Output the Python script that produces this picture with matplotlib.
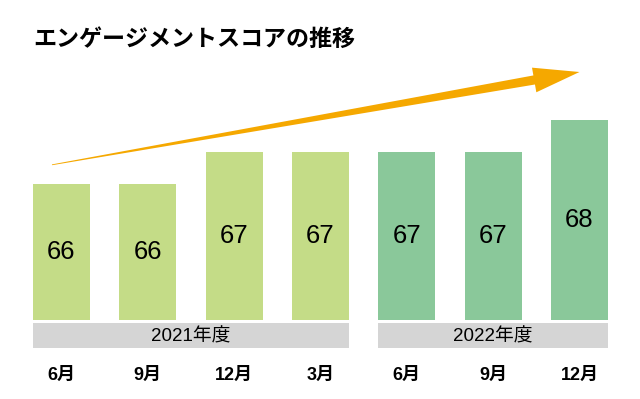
import numpy as np
import matplotlib.pyplot as plt
from matplotlib.patches import Rectangle, Polygon

# data
months = ['6月', '9月', '12月', '3月', '6月', '9月', '12月']
scores = [66, 66, 67, 67, 67, 67, 68]
fiscal = ['2021年度', '2021年度', '2021年度', '2021年度', '2022年度', '2022年度', '2022年度']
years = ['2021年度', '2022年度']
title = 'エンゲージメントスコアの推移'

col_year = {'2021年度': '#c4dc87', '2022年度': '#8ac89a'}
band_col = '#d5d5d5'
arrow_col = '#f5a800'

jp = ['Liberation Sans', 'Noto Sans CJK JP']

fig = plt.figure(figsize=(6.4, 3.99), dpi=100)
ax = fig.add_axes([0, 0, 1, 1])
ax.axis('off')

# layout: 86.33 px per bar slot, 32 px per score point
slot = 86.33
base = 61.75
ax.set_xlim(-61.5 / slot, (640 - 61.5) / slot)
ax.set_ylim(base - 79 / 32, base + 320 / 32)

x = np.arange(len(scores))
w = 0.66
heights = [s - base for s in scores]
ax.bar(x, heights, bottom=base, width=w, color=[col_year[f] for f in fiscal])

for xi, s in zip(x, scores):
    ax.text(xi, base + (s - base) / 2, str(s), ha='center', va='center',
            fontsize=18.5, family='Liberation Sans', color='black')

# fiscal year bands
for yr in years:
    idx = [i for i, f in enumerate(fiscal) if f == yr]
    left = idx[0] - w / 2
    right = idx[-1] + w / 2
    ax.add_patch(Rectangle((left, base - 28 / 32), right - left, 25 / 32,
                           facecolor=band_col, edgecolor='none'))
    ax.text((left + right) / 2, base - 16.5 / 32, yr, ha='center', va='center',
            fontsize=13.5, family=jp)

# month labels
for xi, m in zip(x, months):
    ax.text(xi, base - 55 / 32, m, ha='center', va='center',
            fontsize=13, family=jp, fontweight='bold')

# tapered arrow
fig.canvas.draw()
p0 = ax.transData.transform((-0.11, 66.6))
p1 = ax.transData.transform((6.0, 69.5))
d = p1 - p0
L = np.hypot(*d)
u = d / L
n = np.array([-u[1], u[0]])
head_len, head_w, shaft_w, tail_w = 46, 12.5, 4.6, 0.4
hb = p1 - u * head_len
pts = [p0 + n * tail_w, hb + n * shaft_w, hb + n * head_w, p1,
       hb - n * head_w, hb - n * shaft_w, p0 - n * tail_w]
pts = ax.transData.inverted().transform(np.array(pts))
ax.add_patch(Polygon(pts, closed=True, facecolor=arrow_col, edgecolor='none'))

fig.text(33 / 640, 1 - 39 / 399, title, ha='left', va='center',
         fontsize=16.6, family=jp, fontweight='bold')

fig.savefig('out.png', dpi=100)
